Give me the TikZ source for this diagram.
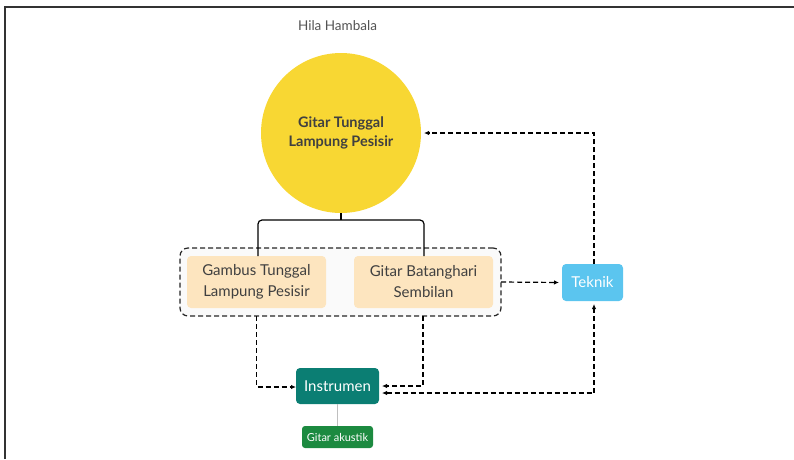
\documentclass[tikz,border=0pt]{standalone}
\usepackage{fontspec}
\setmainfont{Lato}
\usetikzlibrary{arrows.meta,calc}
\definecolor{cyellow}{HTML}{F8D733}
\definecolor{cpeach}{HTML}{FDE5BF}
\definecolor{cteal}{HTML}{0B7E73}
\definecolor{cblue}{HTML}{5BC5EF}
\definecolor{cgreen}{HTML}{1C8A40}
\definecolor{ctext}{HTML}{404040}
\definecolor{cgrp}{HTML}{FAFAFA}
\begin{document}
\begin{tikzpicture}[x=1pt,y=-1pt,
  every node/.style={inner sep=0pt, outer sep=0pt, align=center},
  peach/.style={fill=cpeach, rounded corners=4pt, minimum width=139pt, minimum height=52pt, text=ctext, font=\fontsize{15}{21}\selectfont},
  dasharrow/.style={draw=black, line width=1.2pt, dash pattern=on 5pt off 3pt, -{Latex[length=5pt,width=4.5pt]}},
  dline/.style={draw=black, line width=1.2pt, dash pattern=on 5pt off 3pt}]
\useasboundingbox (0,0) rectangle (794,459);
% frame
\draw[line width=1.3pt, color=black!80] (5,459) -- (5,7) -- (794,7);
\node[text=ctext!90, font=\fontsize{13.5}{15}\selectfont] (title) at (337.5,26) {Hila Hambala};
% circle
\node[circle, fill=cyellow, minimum size=160pt, text=ctext, font=\bfseries\fontsize{14.5}{19.5}\selectfont] (c) at (341,133) {Gitar Tunggal\\Lampung Pesisir};
% group
\node[draw=black!85, fill=cgrp, line width=1.2pt, dash pattern=on 5pt off 3pt, rounded corners=8pt, minimum width=321pt, minimum height=68pt] (grp) at (340.5,282) {};
\node[peach] (b1) at (256.5,282) {Gambus Tunggal\\Lampung Pesisir};
\node[peach] (b2) at (423.5,282) {Gitar Batanghari\\Sembilan};
% tree
\coordinate (tj) at ($(c.south)+(0,7)$);
\draw[line width=1.2pt] (c.south) -- (tj);
\draw[line width=1.2pt, rounded corners=4pt] ([xshift=1.5pt]b1.north) |- (tj) -| ([xshift=0.5pt]b2.north);
% other nodes
\node[fill=cblue, rounded corners=4pt, minimum width=61pt, minimum height=37pt, text=white, font=\fontsize{15}{17}\selectfont] (tek) at (592.5,282.5) {Teknik};
\node[fill=cteal, rounded corners=4pt, minimum width=83pt, minimum height=36pt, text=white, font=\fontsize{15}{17}\selectfont] (ins) at (337.5,386) {Instrumen};
\node[fill=cgreen, rounded corners=3pt, minimum width=71pt, minimum height=22pt, text=white, font=\fontsize{11}{12}\selectfont] (ga) at (337.5,437) {Gitar akustik};
\draw[black!25, line width=0.8pt] (ins.south) -- (ga.north);
% dashed connectors
\draw[dasharrow, shorten >=3pt] (grp.east) -- (tek.west);
\draw[dasharrow, shorten >=3pt] ([xshift=1.5pt]tek.north) |- (c.east);
\draw[dasharrow] (b1.south |- grp.south) |- ([yshift=-1pt]ins.west);
\draw[dasharrow, shorten >=3pt] ([xshift=-0.5pt]b2.south |- grp.south) |- (ins.east);
\draw[dline, {Latex[length=5pt,width=4.5pt]}-{Latex[length=5pt,width=4.5pt]}, shorten <=3pt, shorten >=3pt] ([yshift=-7pt]ins.east) -| ([xshift=1.5pt]tek.south);
\end{tikzpicture}
\end{document}
